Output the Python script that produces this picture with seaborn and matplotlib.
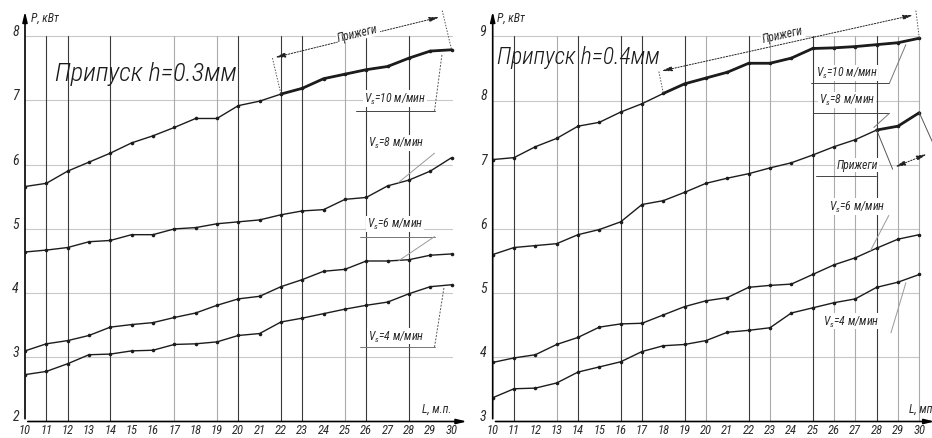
import matplotlib
matplotlib.use("Agg")
import matplotlib.pyplot as plt
from matplotlib import font_manager
import seaborn as sns
import numpy as np

# ---------------- data ----------------
L = list(range(10, 31))
x_ticks = list(range(10, 31))

# h = 0.3 mm
h03_v10 = [5.66, 5.71, 5.90, 6.04, 6.18, 6.34, 6.45, 6.58, 6.72, 6.72, 6.92,
           6.99, 7.10, 7.19, 7.34, 7.41, 7.48, 7.53, 7.66, 7.77, 7.79]
h03_v8 = [4.64, 4.67, 4.71, 4.80, 4.82, 4.91, 4.91, 5.00, 5.02, 5.08, 5.11,
          5.14, 5.22, 5.28, 5.30, 5.46, 5.49, 5.67, 5.76, 5.90, 6.11]
h03_v6 = [3.10, 3.21, 3.26, 3.34, 3.47, 3.51, 3.54, 3.62, 3.69, 3.81, 3.91,
          3.95, 4.10, 4.21, 4.34, 4.37, 4.50, 4.50, 4.52, 4.59, 4.61]
h03_v4 = [2.73, 2.78, 2.90, 3.04, 3.05, 3.10, 3.11, 3.20, 3.21, 3.24, 3.34,
          3.37, 3.55, 3.61, 3.68, 3.75, 3.81, 3.86, 3.99, 4.10, 4.13]

# h = 0.4 mm
h04_v10 = [7.08, 7.11, 7.28, 7.41, 7.60, 7.66, 7.82, 7.95, 8.11, 8.26, 8.35,
           8.44, 8.58, 8.58, 8.66, 8.81, 8.82, 8.84, 8.87, 8.90, 8.97]
h04_v8 = [5.60, 5.71, 5.74, 5.77, 5.91, 5.99, 6.11, 6.38, 6.44, 6.57, 6.71,
          6.79, 6.86, 6.95, 7.03, 7.15, 7.28, 7.39, 7.54, 7.60, 7.81]
h04_v6 = [3.92, 3.99, 4.04, 4.20, 4.31, 4.47, 4.52, 4.53, 4.66, 4.79, 4.88,
          4.93, 5.09, 5.12, 5.14, 5.29, 5.44, 5.55, 5.70, 5.84, 5.91]
h04_v4 = [3.37, 3.51, 3.52, 3.60, 3.77, 3.85, 3.93, 4.09, 4.18, 4.20, 4.26,
          4.39, 4.42, 4.46, 4.69, 4.77, 4.85, 4.91, 5.09, 5.17, 5.29]

y_ticks_left = [2, 3, 4, 5, 6, 7, 8]
y_ticks_right = [3, 4, 5, 6, 7, 8, 9]

titles = ["Припуск h=0.3мм", "Припуск h=0.4мм"]
burn_label = "Прижеги"
speed_labels = ["$V_s$=10 м/мин", "$V_s$=8 м/мин", "$V_s$=6 м/мин", "$V_s$=4 м/мин"]
y_label = "P, кВт"
x_labels = ["L, м.п.", "L, мп"]

# vertical grid lines (dark / light) per panel
vgrid_dark_left = [11, 12, 14, 20, 22, 23, 26, 28]
vgrid_light_left = [17, 19, 25]
vgrid_dark_right = [11, 14, 16, 17, 19, 22, 25, 28]
vgrid_light_right = [13, 20, 23, 26, 27, 29, 30]

# ---------------- style ----------------
sns.set_theme(style="white")
avail = {f.name for f in font_manager.fontManager.ttflist}
fam = [f for f in ["Liberation Sans Narrow", "Roboto Condensed", "Open Sans Condensed",
                   "Liberation Sans", "DejaVu Sans"] if f in avail] + ["DejaVu Sans"]
plt.rcParams["font.family"] = fam
plt.rcParams["mathtext.fontset"] = "custom"
plt.rcParams["mathtext.it"] = fam[0] + ":italic"
plt.rcParams["mathtext.rm"] = fam[0] + ":italic"

W, H = 932, 439
fig = plt.figure(figsize=(W / 100, H / 100), dpi=100)
fig.patch.set_facecolor("white")

LC = "#1c1c1c"
GRID_D = "#3a3a3a"
GRID_L = "#ababab"
HGRID = "#c8c8c8"
TXT = "#2a2a2a"


def make_axes(left_px, ymin, ymax_top):
    unit_x = 21.33
    unit_y = 64.2
    xmax = 30.65
    left = left_px / W
    width = (xmax - 10) * unit_x / W
    bottom = (H - 422.5) / H
    height = (ymax_top - ymin) * unit_y / H
    ax = fig.add_axes([left, bottom, width, height])
    ax.set_xlim(10, xmax)
    ax.set_ylim(ymin, ymax_top)
    for s in ax.spines.values():
        s.set_visible(False)
    ax.set_facecolor("white")
    return ax


def draw_panel(ax, yticks, vdark, vlight, series, thick_from, title, title_xy, tsize):
    ymin, ymax = yticks[0], yticks[-1]
    for yv in yticks[1:]:
        ax.plot([10, 30], [yv, yv], color=HGRID, lw=0.8, zorder=1)
    for xv in vlight:
        ax.plot([xv, xv], [ymin, ymax], color=GRID_L, lw=0.8, zorder=1)
    for xv in vdark:
        ax.plot([xv, xv], [ymin, ymax], color=GRID_D, lw=0.8, zorder=1)
    ax.annotate("", xy=(10, ax.get_ylim()[1] - 0.02), xytext=(10, ymin),
                arrowprops=dict(arrowstyle="-|>,head_width=0.12,head_length=0.5",
                                color="black", lw=1.2), annotation_clip=False)
    ax.annotate("", xy=(30.85, ymin), xytext=(10, ymin),
                arrowprops=dict(arrowstyle="-|>,head_width=0.12,head_length=0.5",
                                color="black", lw=1.2), annotation_clip=False)
    for vals, tf in zip(series, thick_from):
        sns.lineplot(x=L, y=vals, ax=ax, color=LC, lw=1.0, marker="o",
                     markersize=2.6, markeredgewidth=0, zorder=3)
        if tf is not None:
            i0 = L.index(tf)
            sns.lineplot(x=L[i0:], y=vals[i0:], ax=ax, color=LC, lw=2.0,
                         zorder=4)
    ax.set_xticks([])
    ax.set_yticks([])
    for xv in x_ticks:
        ax.text(xv, ymin - 0.03, str(xv), ha="center", va="top", fontsize=9,
                style="italic", color=TXT, clip_on=False)
    for yv in yticks:
        ax.text(9.72, yv + 0.08, str(yv), ha="right", va="center", fontsize=10,
                style="italic", color=TXT, clip_on=False)
    ax.text(title_xy[0], title_xy[1], title, ha="left", va="center",
            fontsize=tsize, style="italic", fontweight="light", color="#1a1a1a",
            zorder=6)
    ax.set_xlabel("")
    ax.set_ylabel("")


def dim_arrow(ax, p0, p1):
    ax.annotate("", xy=p1, xytext=p0,
                arrowprops=dict(arrowstyle="<|-|>,head_width=0.12,head_length=0.5",
                                color="#222222", lw=0.7, linestyle=(0, (1.5, 1.5))),
                annotation_clip=False)


def thin(ax, xs, ys, ls="-", color="#555555", lw=0.7):
    ax.plot(xs, ys, color=color, lw=lw, ls=ls, clip_on=False, zorder=5)


def label(ax, x, y, s, **kw):
    ax.text(x, y, s, ha="center", va="center", fontsize=8.5, style="italic",
            color=TXT, bbox=dict(boxstyle="square,pad=0.05", fc="white", ec="none"),
            zorder=6, **kw)


# ---------------- left panel ----------------
axL = make_axes(25, 2, 8.45)
draw_panel(axL, y_ticks_left, vgrid_dark_left, vgrid_light_left,
           [h03_v10, h03_v8, h03_v6, h03_v4], [22, None, None, None],
           titles[0], (11.4, 7.43), 19)
axL.text(10.28, 8.3, y_label, ha="left", va="center", fontsize=8.5,
         style="italic", color=TXT)
axL.text(30.0, 2.2, x_labels[0], ha="right", va="center", fontsize=8.5,
         style="italic", color=TXT)
dim_arrow(axL, (21.6, 7.66), (29.56, 8.31))
thin(axL, [21.6, 22.0], [7.66, 7.10], ls=(0, (1.5, 1.5)))
thin(axL, [29.56, 30.0], [8.40, 7.79], ls=(0, (1.5, 1.5)))
axL.text(25.6, 8.06, burn_label, rotation=13.5, ha="center", va="center",
         fontsize=8.5, style="italic", color=TXT,
         bbox=dict(boxstyle="square,pad=0.1", fc="white", ec="none"))
label(axL, 27.35, 7.03, speed_labels[0])
thin(axL, [25.5, 29.2], [6.84, 6.84], color="#444444")
thin(axL, [29.2, 29.55], [6.84, 7.72], ls=(0, (2, 1.5)))
label(axL, 27.4, 6.34, speed_labels[1])
thin(axL, [27.5, 29.2], [5.72, 6.18], color="#999999")
label(axL, 27.35, 5.08, speed_labels[2])
thin(axL, [25.7, 29.2], [4.88, 4.88], color="#777777")
thin(axL, [29.2, 27.5], [4.88, 4.50], color="#999999")
label(axL, 27.4, 3.33, speed_labels[3])
thin(axL, [25.7, 29.2], [3.16, 3.16], color="#777777")
thin(axL, [29.2, 29.65], [3.16, 4.10], ls=(0, (2, 1.5)))

# ---------------- right panel ----------------
axR = make_axes(492.7, 3, 9.45)
draw_panel(axR, y_ticks_right, vgrid_dark_right, vgrid_light_right,
           [h04_v10, h04_v8, h04_v6, h04_v4], [18, 28, None, None],
           titles[1], (10.2, 8.69), 17)
axR.text(10.2, 9.3, y_label, ha="left", va="center", fontsize=8.5,
         style="italic", color=TXT)
axR.text(30.6, 3.2, x_labels[1], ha="right", va="center", fontsize=8.5,
         style="italic", color=TXT, clip_on=False)
dim_arrow(axR, (17.79, 8.45), (29.84, 9.34))
thin(axR, [17.79, 18.0], [8.45, 8.11], ls=(0, (1.5, 1.5)))
thin(axR, [29.84, 30.0], [9.40, 8.97], ls=(0, (1.5, 1.5)))
axR.text(23.6, 9.03, burn_label, rotation=12.5, ha="center", va="center",
         fontsize=8.5, style="italic", color=TXT,
         bbox=dict(boxstyle="square,pad=0.1", fc="white", ec="none"))
label(axR, 26.6, 8.43, speed_labels[0])
thin(axR, [24.9, 28.6], [8.27, 8.27], color="#444444")
thin(axR, [28.6, 29.37], [8.27, 8.87], color="#777777")
label(axR, 26.6, 8.01, speed_labels[1])
thin(axR, [25.0, 28.6], [7.80, 7.80], color="#444444")
thin(axR, [28.6, 27.87], [7.80, 7.58], color="#777777")
label(axR, 27.1, 7.0, burn_label)
thin(axR, [25.15, 27.96], [6.82, 6.82], color="#444444")
thin(axR, [28.0, 28.75], [7.54, 6.93], color="#555555")
thin(axR, [30.0, 30.62], [7.81, 7.35], color="#555555")
dim_arrow(axR, (28.75, 6.95), (30.47, 7.18))
label(axR, 27.1, 6.35, speed_labels[2])
thin(axR, [28.57, 27.71], [6.21, 5.66], color="#999999")
label(axR, 26.8, 4.56, speed_labels[3])
thin(axR, [28.67, 29.37], [4.38, 5.16], color="#999999")

fig.savefig("out.png", dpi=100, facecolor="white")
